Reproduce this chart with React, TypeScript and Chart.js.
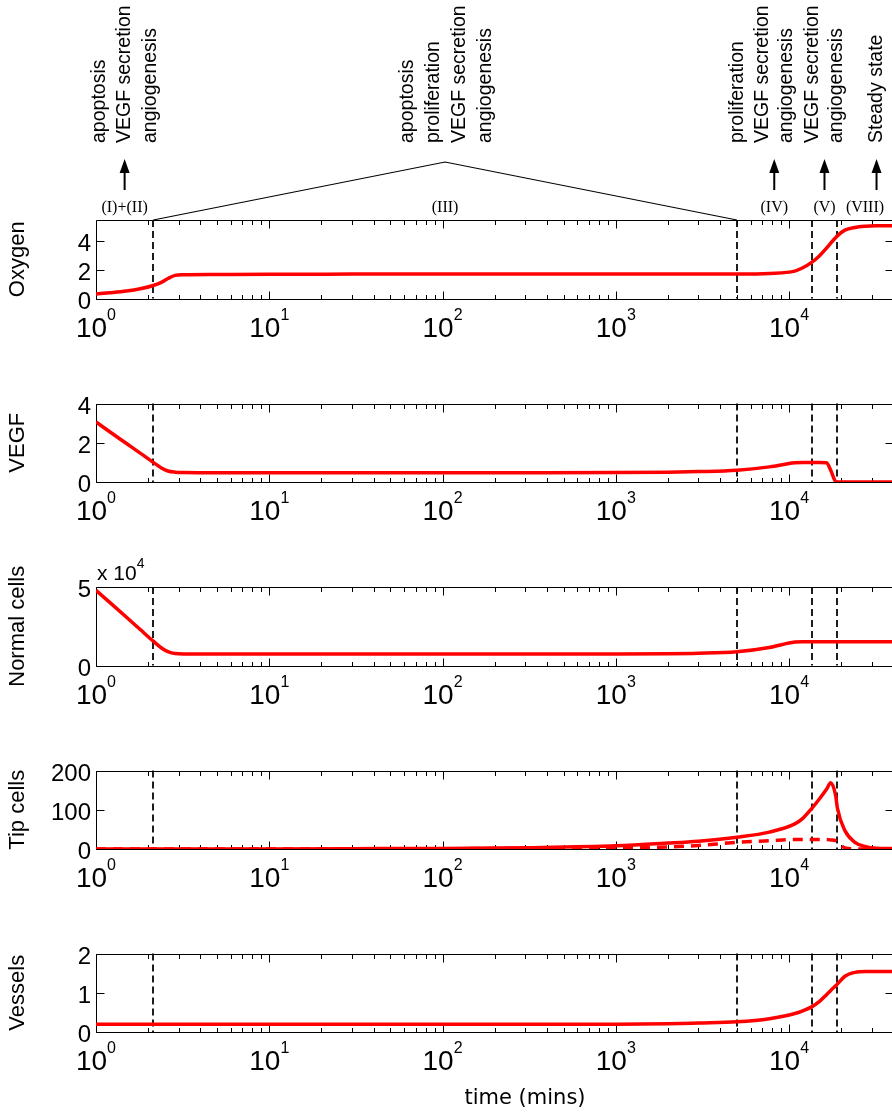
import React, { useEffect, useRef } from 'react';
import { Chart, registerables } from 'chart.js';
Chart.register(...registerables);

// ---------------- data ----------------
const times = [1, 1.2, 1.5, 1.8, 2.14, 2.4, 2.6, 2.86, 3.2, 5, 10, 30, 100, 300, 1000, 2000, 3000, 5000, 7700, 10800, 12000, 13500, 15000, 16450, 17400, 18600, 19000, 21000, 24000, 27700, 32000, 40000];

const oxygen = [0.32, 0.4, 0.52, 0.68, 0.91, 1.15, 1.4, 1.62, 1.66, 1.68, 1.7, 1.71, 1.72, 1.72, 1.72, 1.72, 1.72, 1.72, 1.76, 1.92, 2.15, 2.53, 3.0, 3.53, 3.88, 4.27, 4.39, 4.79, 4.98, 5.06, 5.09, 5.1];

const vegf = [3.06, 2.56, 1.96, 1.47, 1.0, 0.7, 0.56, 0.5, 0.48, 0.47, 0.47, 0.47, 0.47, 0.47, 0.48, 0.5, 0.53, 0.6, 0.77, 0.98, 1.0, 1.0, 1.0, 0.98, 0.6, 0.02, 0, 0, 0, 0, 0, 0];

// in units of 10^4
const normalCells = [4.79, 4.02, 3.07, 2.29, 1.55, 1.1, 0.88, 0.76, 0.74, 0.74, 0.74, 0.74, 0.74, 0.74, 0.74, 0.75, 0.78, 0.88, 1.15, 1.5, 1.52, 1.52, 1.52, 1.52, 1.52, 1.52, 1.52, 1.52, 1.52, 1.52, 1.52, 1.52];

const tipCells = [0, 0, 0, 0, 0, 0, 0, 0, 0, 0.1, 0.3, 0.8, 1.5, 3.5, 8, 15, 20, 30, 43, 64, 78, 103, 128, 152, 169, 135, 105, 47, 17, 6, 2, 1];

const tipCellsDashed = [0, 0, 0, 0, 0, 0, 0, 0, 0, 0, 0.1, 0.3, 0.8, 1.5, 3, 5, 9, 17, 21, 24, 24, 24, 24, 24, 23, 21, 18, 3, 0.5, 0, 0, 0];

const vessels = [0.2, 0.2, 0.2, 0.2, 0.2, 0.2, 0.2, 0.2, 0.2, 0.2, 0.2, 0.2, 0.2, 0.2, 0.2, 0.21, 0.23, 0.26, 0.34, 0.47, 0.54, 0.64, 0.78, 0.95, 1.06, 1.18, 1.22, 1.42, 1.52, 1.54, 1.54, 1.54];

const phaseBoundaries = [2.14, 5000, 13500, 19000];
const xMin = 1;
const xMax = Math.pow(10, 4.6);
const xTickDecades = [0, 1, 2, 3, 4];

const yLabels = ['Oxygen', 'VEGF', 'Normal cells', 'Tip cells', 'Vessels'];
const yMaxes = [5.5, 4, 5, 200, 2];
const yTicksList = [[0, 2, 4], [0, 2, 4], [0, 5], [0, 100, 200], [0, 1, 2]];

const phaseLabels = ['(I)+(II)', '(III)', '(IV)', '(V)', '(VIII)'];
const phaseTexts = [
  ['apoptosis', 'VEGF secretion', 'angiogenesis'],
  ['apoptosis', 'proliferation', 'VEGF secretion', 'angiogenesis'],
  ['proliferation', 'VEGF secretion', 'angiogenesis'],
  ['VEGF secretion', 'angiogenesis'],
  ['Steady state'],
];

// ---------------- layout ----------------
const W = 900;
const H = 1114;
const PLOT_LEFT = 96;
const PLOT_RIGHT = 893;
const PANEL_TOPS = [220, 403.5, 587, 770.5, 953.5];
const PANEL_H = 78.5;

const SANS = '"Liberation Sans", Arial, sans-serif';
const SERIF = '"Liberation Serif", "Times New Roman", serif';

function drawRotated(ctx: CanvasRenderingContext2D, text: string, x: number, y: number, align: CanvasTextAlign) {
  ctx.save();
  ctx.translate(x, y);
  ctx.rotate(-Math.PI / 2);
  ctx.textAlign = align;
  ctx.textBaseline = 'middle';
  ctx.fillText(text, 0, 0);
  ctx.restore();
}

function makePanelPlugin(idx: number) {
  return {
    id: 'panelDecor' + idx,
    beforeDatasetsDraw(chart: any) {
      const { ctx, chartArea: a } = chart;
      const x = chart.scales.x;
      const y = chart.scales.y;
      ctx.save();
      // phase boundaries
      ctx.strokeStyle = '#1e1e1e';
      ctx.lineWidth = 2;
      ctx.setLineDash([7, 4]);
      for (const b of phaseBoundaries) {
        const px = Math.round(x.getPixelForValue(b));
        ctx.beginPath();
        ctx.moveTo(px, a.top);
        ctx.lineTo(px, a.bottom);
        ctx.stroke();
      }
      ctx.setLineDash([]);
      // frame
      ctx.strokeStyle = '#000';
      ctx.lineWidth = 1;
      const L = Math.round(a.left) + 0.5;
      const T = Math.round(a.top) + 0.5;
      const B = Math.round(a.bottom) + 0.5;
      const R = Math.round(a.right) + 0.5;
      ctx.beginPath();
      ctx.moveTo(R, T); ctx.lineTo(L, T); ctx.lineTo(L, B); ctx.lineTo(R, B); ctx.lineTo(R, T);
      ctx.stroke();
      // x ticks (inward, top & bottom)
      ctx.beginPath();
      for (const k of xTickDecades) {
        for (let m = 1; m <= 9; m++) {
          const v = m * Math.pow(10, k);
          if (v > xMax) break;
          const px = Math.round(x.getPixelForValue(v)) + 0.5;
          const len = m === 1 ? 8 : 4.5;
          ctx.moveTo(px, B); ctx.lineTo(px, B - len);
          ctx.moveTo(px, T); ctx.lineTo(px, T + len);
        }
      }
      // y ticks (inward, left & right)
      for (const t of yTicksList[idx]) {
        const py = Math.round(y.getPixelForValue(t)) + 0.5;
        ctx.moveTo(L, py); ctx.lineTo(L + 8, py);
        ctx.moveTo(R, py); ctx.lineTo(R - 8, py);
      }
      ctx.stroke();
      ctx.restore();
    },
    afterDraw(chart: any) {
      const { ctx, chartArea: a } = chart;
      const x = chart.scales.x;
      const y = chart.scales.y;
      ctx.save();
      ctx.fillStyle = '#000';
      // y tick labels
      ctx.font = '24px ' + SANS;
      ctx.textAlign = 'right';
      ctx.textBaseline = 'alphabetic';
      for (const t of yTicksList[idx]) {
        const py = y.getPixelForValue(t);
        ctx.fillText(String(t), 91, py + 10);
      }
      // x tick labels 10^k
      for (const k of xTickDecades) {
        const px = x.getPixelForValue(Math.pow(10, k));
        ctx.font = '28px ' + SANS;
        const w1 = ctx.measureText('10').width;
        ctx.font = '16px ' + SANS;
        const w2 = ctx.measureText(String(k)).width;
        const start = px - (w1 + w2) / 2;
        ctx.textAlign = 'left';
        ctx.font = '28px ' + SANS;
        ctx.fillText('10', start, a.bottom + 38);
        ctx.font = '16px ' + SANS;
        ctx.fillText(String(k), start + w1, a.bottom + 21);
      }
      // y label
      ctx.font = '22px ' + SANS;
      drawRotated(ctx, yLabels[idx], 18, (a.top + a.bottom) / 2, 'center');
      // multiplier for normal cells
      if (idx === 2) {
        ctx.textAlign = 'left';
        ctx.font = '21px ' + SANS;
        const w = ctx.measureText('x 10').width;
        ctx.fillText('x 10', 97, a.top - 7);
        ctx.font = '14px ' + SANS;
        ctx.fillText('4', 97 + w, a.top - 19);
      }
      // top annotations
      if (idx === 0) {
        const bx = phaseBoundaries.map((b) => x.getPixelForValue(b));
        const peakX = (bx[0] + bx[1]) / 2;
        ctx.strokeStyle = '#000';
        ctx.lineWidth = 1.2;
        ctx.beginPath();
        ctx.moveTo(bx[0], a.top);
        ctx.lineTo(peakX, a.top - 58);
        ctx.lineTo(bx[1], a.top);
        ctx.stroke();
        // arrows
        const arrowX = [
          (x.getPixelForValue(xMin) + bx[0]) / 2,
          (bx[1] + bx[2]) / 2,
          (bx[2] + bx[3]) / 2,
          x.getPixelForValue(Math.pow(10, 4.505)),
        ];
        for (const ax of arrowX) {
          ctx.lineWidth = 2;
          ctx.beginPath();
          ctx.moveTo(ax, 190);
          ctx.lineTo(ax, 170);
          ctx.stroke();
          ctx.beginPath();
          ctx.moveTo(ax, 159);
          ctx.lineTo(ax - 5, 173);
          ctx.lineTo(ax + 5, 173);
          ctx.closePath();
          ctx.fill();
        }
        // roman labels
        ctx.font = '16px ' + SERIF;
        ctx.textAlign = 'center';
        ctx.textBaseline = 'middle';
        const romanX = [arrowX[0], peakX, arrowX[1], arrowX[2], 865];
        phaseLabels.forEach((lab, i) => ctx.fillText(lab, romanX[i], 208));
        // rotated descriptions
        ctx.font = '19.5px ' + SANS;
        const colX = [
          [100, 125, 151],
          [408, 434, 460, 486],
          [738, 763, 787],
          [813, 837],
          [877],
        ];
        phaseTexts.forEach((group, gi) => {
          group.forEach((t, ti) => drawRotated(ctx, t, colX[gi][ti], 143, 'left'));
        });
      }
      if (idx === 4) {
        ctx.font = '21px "DejaVu Sans", sans-serif';
        ctx.textAlign = 'center';
        ctx.textBaseline = 'middle';
        ctx.fillText('time (mins)', 525, 1099);
      }
      ctx.restore();
    },
  };
}

const panelSeries: number[][][] = [[oxygen], [vegf], [normalCells], [tipCells, tipCellsDashed], [vessels]];

export default function App() {
  const refs = [useRef<HTMLCanvasElement>(null), useRef<HTMLCanvasElement>(null), useRef<HTMLCanvasElement>(null), useRef<HTMLCanvasElement>(null), useRef<HTMLCanvasElement>(null)];

  useEffect(() => {
    const charts: Chart[] = [];
    refs.forEach((r, idx) => {
      if (!r.current) return;
      const top = PANEL_TOPS[idx];
      const bottom = top + PANEL_H;
      const datasets = panelSeries[idx].map((s, si) => ({
        data: times.map((t, i) => ({ x: t, y: s[i] })),
        borderColor: '#ff0000',
        borderWidth: 3.5,
        borderDash: si === 1 ? [10, 7] : [],
        pointRadius: 0,
        fill: false,
        cubicInterpolationMode: 'monotone' as const,
      }));
      const c = new Chart(r.current, {
        type: 'line',
        data: { datasets },
        options: {
          animation: false,
          responsive: false,
          devicePixelRatio: 1,
          events: [],
          layout: { padding: { left: PLOT_LEFT, right: W - PLOT_RIGHT, top, bottom: H - bottom } },
          plugins: { legend: { display: false }, tooltip: { enabled: false } },
          scales: {
            x: { type: 'logarithmic', min: xMin, max: xMax, display: false },
            y: { type: 'linear', min: 0, max: yMaxes[idx], display: false },
          },
        },
        plugins: [makePanelPlugin(idx)],
      } as any);
      charts.push(c);
    });
    return () => charts.forEach((c) => c.destroy());
  }, []);

  return (
    <div style={{ position: 'fixed', left: 0, top: 0, width: 892, height: 1114, overflow: 'hidden', background: '#fff' }}>
      {refs.map((r, i) => (
        <canvas key={i} ref={r} width={W} height={H} style={{ position: 'absolute', left: 0, top: 0, width: W, height: H }} />
      ))}
    </div>
  );
}
